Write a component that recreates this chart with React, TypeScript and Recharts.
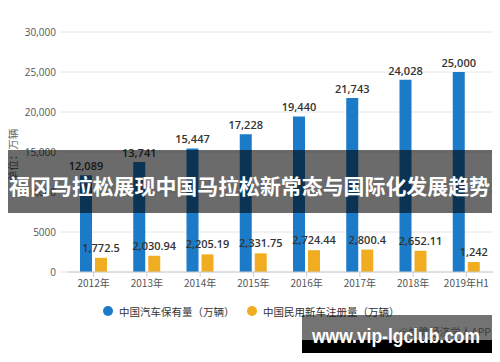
import React from 'react';
import { BarChart, Bar, XAxis, YAxis, CartesianGrid, LabelList } from 'recharts';

const categories = ['2012年', '2013年', '2014年', '2015年', '2016年', '2017年', '2018年', '2019年H1'];
const carStock = [12089, 13741, 15447, 17228, 19440, 21743, 24028, 25000];
const newRegistrations = [1772.5, 2030.94, 2205.19, 2331.75, 2724.44, 2800.4, 2652.11, 1242];
const yTicks = [0, 5000, 10000, 15000, 20000, 25000, 30000];
const yTickLabels = ['0', '5000', '10,000', '15,000', '20,000', '25,000', '30,000'];
const seriesNames = ['中国汽车保有量（万辆）', '中国民用新车注册量（万辆）'];
const seriesColors = ['#1b7bc8', '#f0ad22'];
const yAxisTitle = '单位：万辆';
const bannerTitle = '福冈马拉松展现中国马拉松新常态与国际化发展趋势';
const watermarkUrl = 'www.vip-lgclub.com';
const sourceNote = '@前瞻经济学人APP';

const data = categories.map((c, i) => ({ category: c, stock: carStock[i], reg: newRegistrations[i] }));

const fmt = (v: number) => v.toLocaleString('en-US', { maximumFractionDigits: 2 });
const tickFmt = (v: number) => yTickLabels[yTicks.indexOf(v)] ?? String(v);

const labelStyle = { fontSize: 11, fontWeight: 600, fill: '#333', fontFamily: '"Open Sans", "Noto Sans", sans-serif' };
const cjk = '"Noto Sans CJK SC", "Noto Sans", sans-serif';

export default function App() {
  return (
    <div style={{ position: 'absolute', left: 0, top: 0, width: 500, height: 362, background: '#fff' }}>
      <BarChart
        width={500}
        height={362}
        data={data}
        margin={{ top: 32, right: 7, left: 0, bottom: 60 }}
        barSize={12}
        barGap={3}
      >
        <CartesianGrid vertical={false} stroke="#e6e6e6" />
        <XAxis
          dataKey="category"
          height={30}
          tickSize={5}
          tickMargin={3}
          axisLine={{ stroke: '#cccccc' }}
          tickLine={{ stroke: '#cccccc' }}
          tick={{ fontSize: 10, fill: '#555', fontFamily: cjk }}
          interval={0}
        />
        <YAxis
          width={67}
          domain={[0, 30000]}
          ticks={yTicks}
          tickFormatter={tickFmt}
          axisLine={false}
          tickSize={7}
          tickMargin={4}
          tickLine={{ stroke: '#e6e6e6' }}
          tick={{ fontSize: 10, fill: '#555', fontFamily: '"Open Sans", "Noto Sans", sans-serif' }}
        />
        <Bar dataKey="stock" name={seriesNames[0]} fill={seriesColors[0]} isAnimationActive={false}>
          <LabelList dataKey="stock" position="top" offset={5} formatter={fmt} style={labelStyle} />
        </Bar>
        <Bar dataKey="reg" name={seriesNames[1]} fill={seriesColors[1]} isAnimationActive={false}>
          <LabelList dataKey="reg" position="top" offset={6} formatter={fmt} style={labelStyle} />
        </Bar>
      </BarChart>
      <svg
        width={500}
        height={362}
        style={{ position: 'absolute', left: 0, top: 0, pointerEvents: 'none' }}
      >
        <text
          x={12}
          y={155}
          transform="rotate(-90 12 155)"
          textAnchor="middle"
          dominantBaseline="central"
          fontSize={10.5}
          fill="#666"
          fontFamily={cjk}
        >
          {yAxisTitle}
        </text>
        <circle cx={108} cy={311} r={5} fill={seriesColors[0]} />
        <text x={119} y={311} dominantBaseline="central" fontSize={10.5} fill="#333" fontFamily={cjk}>
          {seriesNames[0]}
        </text>
        <circle cx={252} cy={311} r={5} fill={seriesColors[1]} />
        <text x={263} y={311} dominantBaseline="central" fontSize={10.5} fill="#333" fontFamily={cjk}>
          {seriesNames[1]}
        </text>
        <rect x={8} y={150} width={484} height={63} fill="rgba(0,0,0,0.58)" />
        <text
          x={9}
          y={185}
          dominantBaseline="central"
          fontSize={21}
          fontWeight={700}
          fill="#fff"
          fontFamily={cjk}
          textLength={481}
          lengthAdjust="spacingAndGlyphs"
        >
          {bannerTitle}
        </text>
        <rect x={302} y={315} width={190} height={26} fill="rgba(0,0,0,0.55)" />
        <rect x={302} y={340} width={190} height={13} fill="#000" />
        <text x={491} y={331} textAnchor="end" dominantBaseline="central" fontSize={10.5} fill="#3d3d3d" fontFamily={cjk}>
          {sourceNote}
        </text>
        <text
          x={312}
          y={343}
          fontSize={20}
          fontWeight={700}
          fill="#fff"
          fontFamily='"Liberation Sans", Arial, sans-serif'
          textLength={168}
          lengthAdjust="spacingAndGlyphs"
        >
          {watermarkUrl}
        </text>
      </svg>
    </div>
  );
}
